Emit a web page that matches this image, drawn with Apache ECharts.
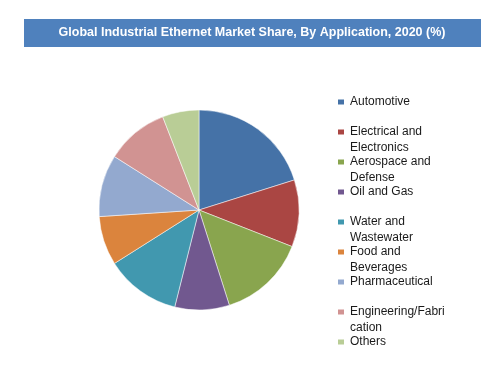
<!DOCTYPE html>
<html><head><meta charset="utf-8">
<script src="https://cdn.jsdelivr.net/npm/echarts@6/dist/echarts.min.js"></script>
<style>html,body{margin:0;padding:0;background:#fff}#c{width:502px;height:385px}</style>
</head><body><div id="c"></div>
<script>
const titleText = 'Global Industrial Ethernet Market Share, By Application, 2020 (%)';
const categories = ['Automotive','Electrical and Electronics','Aerospace and Defense','Oil and Gas','Water and Wastewater','Food and Beverages','Pharmaceutical','Engineering/Fabrication','Others'];
const legendLabels = ['Automotive\n','Electrical and\nElectronics','Aerospace and\nDefense','Oil and Gas\n','Water and\nWastewater','Food and\nBeverages','Pharmaceutical\n','Engineering/Fabri\ncation','Others\n'];
const shares = [20.1, 10.8, 14.1, 8.8, 12.1, 7.9, 10.0, 10.1, 5.9];
const colors = ['#4572A7','#AA4643','#89A54E','#71588F','#4198AF','#DB843D','#93A9CF','#D19392','#B9CD96'];

const chart = echarts.init(document.getElementById('c'), null, {renderer:'canvas'});
chart.setOption({
  animation:false,
  color: colors,
  graphic:[
    {type:'rect', shape:{x:24,y:19,width:457,height:28}, style:{fill:'#4F81BD'}},
    {type:'text', x:252, y:33, style:{text:titleText, fill:'#fff', font:'bold 12.5px "Liberation Sans", Arial, sans-serif', align:'center', verticalAlign:'middle'}}
  ],
  legend:{
    orient:'vertical', left:336, top:78, padding:0,
    itemWidth:8, itemHeight:7, itemGap:-18, icon:'rect',
    data: categories,
    formatter: name => '\n' + legendLabels[categories.indexOf(name)],
    textStyle:{fontFamily:'"Liberation Sans", Arial, sans-serif', fontSize:12, color:'#1a1a1a', lineHeight:16}
  },
  series:[{
    type:'pie', center:[199,210], radius:100, startAngle:90, clockwise:true,
    label:{show:false}, labelLine:{show:false},
    itemStyle:{borderColor:'#fff', borderWidth:0.5},
    data: categories.map((n,i)=>({name:n, value:shares[i]}))
  }]
});
</script></body></html>
